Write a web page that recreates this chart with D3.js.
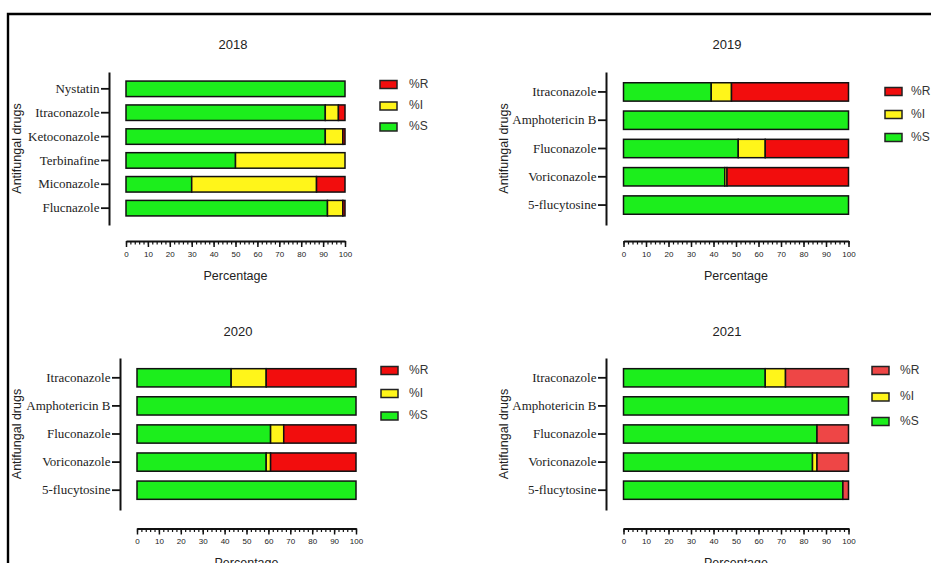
<!DOCTYPE html>
<html>
<head>
<meta charset="utf-8">
<script src="https://cdn.jsdelivr.net/npm/d3@7"></script>
<style>
  html, body { margin: 0; padding: 0; background: #fff; overflow: hidden; }
  svg { display: block; }
</style>
</head>
<body>
<svg id="chart" width="931" height="563"></svg>
<script>
// Antifungal susceptibility profile per year (% of isolates)
const years = ["2018", "2019", "2020", "2021"];

const drugs2018 = ["Nystatin", "Itraconazole", "Ketoconazole", "Terbinafine", "Miconazole", "Flucnazole"];
const susceptible2018 = [100, 91, 91, 50, 30, 92];
const intermediate2018 = [0, 6, 8, 50, 57, 7];
const resistant2018 = [0, 3, 1, 0, 13, 1];

const drugs2019 = ["Itraconazole", "Amphotericin B", "Fluconazole", "Voriconazole", "5-flucytosine"];
const susceptible2019 = [39, 100, 51, 45, 100];
const intermediate2019 = [9, 0, 12, 1, 0];
const resistant2019 = [52, 0, 37, 54, 0];

const drugs2020 = ["Itraconazole", "Amphotericin B", "Fluconazole", "Voriconazole", "5-flucytosine"];
const susceptible2020 = [43, 100, 61, 59, 100];
const intermediate2020 = [16, 0, 6, 2, 0];
const resistant2020 = [41, 0, 33, 39, 0];

const drugs2021 = ["Itraconazole", "Amphotericin B", "Fluconazole", "Voriconazole", "5-flucytosine"];
const susceptible2021 = [63, 100, 86, 84, 97.5];
const intermediate2021 = [9, 0, 0, 2, 0];
const resistant2021 = [28, 0, 14, 14, 2.5];

const seriesKeys = ["S", "I", "R"];
const legendLabels = ["%R", "%I", "%S"];
const percentTicks = [0, 10, 20, 30, 40, 50, 60, 70, 80, 90, 100];
const minorTicks = d3.range(0, 101, 2);

const panelData = {
  "2018": { drugs: drugs2018, S: susceptible2018, I: intermediate2018, R: resistant2018 },
  "2019": { drugs: drugs2019, S: susceptible2019, I: intermediate2019, R: resistant2019 },
  "2020": { drugs: drugs2020, S: susceptible2020, I: intermediate2020, R: resistant2020 },
  "2021": { drugs: drugs2021, S: susceptible2021, I: intermediate2021, R: resistant2021 }
};

// Panel placement on the page
const layout = {
  "2018": { axisX: 109, x0: 126, x1: 345, y0: 72, y1: 225, titleX: 233, titleY: 46, xAxisY: 241, xLabelY: 277, yLabelX: 18,
            legX: 380, legY: [84.5, 106, 127], legTextX: 409, red: "#f20d0d" },
  "2019": { axisX: 606, x0: 623.5, x1: 848.5, y0: 72, y1: 225, titleX: 727, titleY: 46, xAxisY: 241, xLabelY: 277, yLabelX: 505,
            legX: 885, legY: [91.5, 114.5, 137.5], legTextX: 911, red: "#f20d0d" },
  "2020": { axisX: 120, x0: 137, x1: 356, y0: 358, y1: 510, titleX: 238, titleY: 333, xAxisY: 528.5, xLabelY: 564, yLabelX: 18,
            legX: 381, legY: [370.5, 393.5, 416], legTextX: 409, red: "#f20d0d" },
  "2021": { axisX: 606, x0: 623.5, x1: 848.5, y0: 358, y1: 510, titleX: 727, titleY: 333, xAxisY: 528.5, xLabelY: 564, yLabelX: 505,
            legX: 872, legY: [370.5, 397, 421.5], legTextX: 900, red: "#ee4646" }
};

const green = "#1cee1c";
const yellow = "#fff51a";

const svg = d3.select("#chart");

// outer frame
svg.append("path")
  .attr("d", "M8,563 V14 H931")
  .attr("fill", "none")
  .attr("stroke", "#000")
  .attr("stroke-width", 2.4);

years.forEach(year => {
  const d = panelData[year];
  const L = layout[year];
  const g = svg.append("g");
  const colors = { S: green, I: yellow, R: L.red };

  const rows = d.drugs.map((name, i) => ({ name, S: d.S[i], I: d.I[i], R: d.R[i] }));
  const stacked = d3.stack().keys(seriesKeys)(rows);

  const x = d3.scaleLinear().domain([0, 100]).range([L.x0, L.x1]);
  const y = d3.scaleBand().domain(d.drugs).range([L.y0, L.y1])
    .paddingInner(0.35).paddingOuter(0.38);

  // title
  g.append("text")
    .attr("x", L.titleX).attr("y", L.titleY)
    .attr("text-anchor", "middle").attr("dominant-baseline", "middle")
    .attr("font-family", "Liberation Sans, Arial, sans-serif")
    .attr("font-size", 13).attr("fill", "#222")
    .text(year);

  // stacked bars
  stacked.forEach(layer => {
    g.append("g").selectAll("rect")
      .data(layer.filter(p => p[1] - p[0] > 0))
      .join("rect")
      .attr("x", p => x(p[0]))
      .attr("width", p => x(p[1]) - x(p[0]))
      .attr("y", p => y(p.data.name))
      .attr("height", y.bandwidth())
      .attr("fill", colors[layer.key])
      .attr("stroke", "#111")
      .attr("stroke-width", 1.5);
  });

  // y axis
  const yAxis = g.append("g")
    .attr("transform", `translate(${L.axisX},0)`)
    .call(d3.axisLeft(y).tickSize(8).tickSizeOuter(0).tickPadding(1.5));
  yAxis.select(".domain").attr("stroke", "#111").attr("stroke-width", 2);
  yAxis.selectAll(".tick line").attr("stroke", "#111").attr("stroke-width", 1.8);
  yAxis.selectAll(".tick text")
    .attr("font-family", "Liberation Serif, Times New Roman, serif")
    .attr("font-size", 13).attr("fill", "#222");

  // y axis title
  g.append("text")
    .attr("transform", `translate(${L.yLabelX},${(L.y0 + L.y1) / 2}) rotate(-90)`)
    .attr("text-anchor", "middle").attr("dominant-baseline", "middle")
    .attr("font-family", "Liberation Sans, Arial, sans-serif")
    .attr("font-size", 12.5).attr("fill", "#222")
    .text("Antifungal drugs");

  // x axis: minor ticks, then labelled major ticks
  const minor = g.append("g")
    .attr("transform", `translate(0,${L.xAxisY})`)
    .call(d3.axisBottom(x).tickValues(minorTicks).tickSize(3.5).tickSizeOuter(0).tickFormat(""));
  minor.select(".domain").attr("stroke", "#111").attr("stroke-width", 2);
  minor.selectAll(".tick line").attr("stroke", "#111").attr("stroke-width", 1.2);

  const major = g.append("g")
    .attr("transform", `translate(0,${L.xAxisY})`)
    .call(d3.axisBottom(x).tickValues(percentTicks).tickSize(6).tickSizeOuter(0).tickPadding(4));
  major.select(".domain").remove();
  major.selectAll(".tick line").attr("stroke", "#111").attr("stroke-width", 1.5);
  major.selectAll(".tick text")
    .attr("font-family", "Liberation Sans, Arial, sans-serif")
    .attr("font-size", 8).attr("fill", "#222");

  // x axis title
  g.append("text")
    .attr("x", (L.x0 + L.x1) / 2).attr("y", L.xLabelY)
    .attr("text-anchor", "middle").attr("dominant-baseline", "middle")
    .attr("font-family", "Liberation Sans, Arial, sans-serif")
    .attr("font-size", 12.5).attr("fill", "#222")
    .text("Percentage");

  // legend
  const legendKeys = ["R", "I", "S"];
  legendKeys.forEach((k, i) => {
    g.append("rect")
      .attr("x", L.legX).attr("y", L.legY[i] - 4)
      .attr("width", 17).attr("height", 8)
      .attr("fill", colors[k]).attr("stroke", "#222").attr("stroke-width", 1.5);
    g.append("text")
      .attr("x", L.legTextX).attr("y", L.legY[i])
      .attr("dominant-baseline", "middle")
      .attr("font-family", "Liberation Sans, Arial, sans-serif")
      .attr("font-size", 12).attr("fill", "#333")
      .text(legendLabels[i]);
  });
});
</script>
</body>
</html>
